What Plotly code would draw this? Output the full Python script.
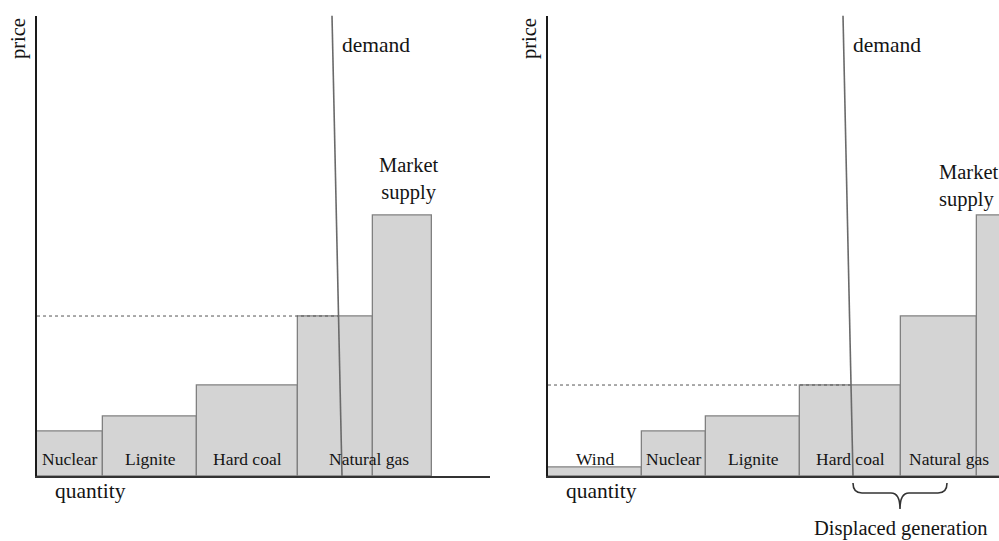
import plotly.graph_objects as go

# ---- data (arbitrary quantity / price units) ----
techs_before = ["Nuclear", "Lignite", "Hard coal", "Natural gas", "Peak"]
widths_before = [66, 94, 101, 75, 59]
prices_before = [45, 59.5, 91, 160, 260.5]

techs_after = ["Wind", "Nuclear", "Lignite", "Hard coal", "Natural gas", "Peak"]
widths_after = [94, 64, 94, 101, 76, 59]
prices_after = [9, 45, 59.5, 91, 160, 260.5]

labelled = ["Wind", "Nuclear", "Lignite", "Hard coal", "Natural gas"]

demand_q = [305, 295]      # quantity at bottom / top of chart
demand_p = [0, 460.5]
price_max = 460.5

FONT = "Liberation Serif"
TXT = "#141414"

fig = go.Figure()

yd = [0.1201, 0.9713]
panels = [
    dict(x="x", y="y", xa="xaxis", ya="yaxis", dom=[37/999, 490/999], xr=[0, 453],
         techs=techs_before, w=widths_before, p=prices_before, clear="Natural gas",
         gas_shift=33, ms_x=372, ms_y=297, ms_anchor="center"),
    dict(x="x2", y="y2", xa="xaxis2", ya="yaxis2", dom=[548/999, 1.0], xr=[0, 451],
         techs=techs_after, w=widths_after, p=prices_after, clear="Hard coal",
         gas_shift=10, ms_x=389, ms_y=290, ms_anchor="left"),
]


def demand_q_at(p):
    return demand_q[0] + (demand_q[1] - demand_q[0]) * (p - demand_p[0]) / (demand_p[1] - demand_p[0])


def to_paper(pn, q, p):
    d0, d1 = pn["dom"]
    r0, r1 = pn["xr"]
    px = d0 + (q - r0) / (r1 - r0) * (d1 - d0)
    py = yd[0] + p / price_max * (yd[1] - yd[0])
    return px, py


annotations = []
shapes = []
for i, pn in enumerate(panels):
    lefts = []
    acc = 0
    for w in pn["w"]:
        lefts.append(acc)
        acc += w
    centers = [l + w / 2 for l, w in zip(lefts, pn["w"])]
    fig.add_trace(go.Bar(x=centers, y=pn["p"], width=pn["w"], base=0,
                         marker=dict(color="#d4d4d4", line=dict(color="#808080", width=1.3)),
                         xaxis=pn["x"], yaxis=pn["y"], hoverinfo="skip"))
    # clearing price dotted line
    cp = pn["p"][pn["techs"].index(pn["clear"])]
    fig.add_trace(go.Scatter(x=[0, demand_q_at(cp)], y=[cp, cp], mode="lines",
                             line=dict(color="#555555", width=1, dash="dot"),
                             xaxis=pn["x"], yaxis=pn["y"], hoverinfo="skip"))
    # demand line
    fig.add_trace(go.Scatter(x=demand_q, y=demand_p, mode="lines",
                             line=dict(color="#6a6a6a", width=1.6),
                             xaxis=pn["x"], yaxis=pn["y"], hoverinfo="skip"))
    # bar labels
    for t, c in zip(pn["techs"], centers):
        if t in labelled:
            xx = c + (pn["gas_shift"] if t == "Natural gas" else 0)
            annotations.append(dict(x=xx, y=17.5, xref=pn["x"], yref=pn["y"], text=t,
                                    showarrow=False, font=dict(family=FONT, size=17.5, color=TXT)))
    annotations.append(dict(x=demand_q[1] + 8, y=431, xref=pn["x"], yref=pn["y"], text="demand",
                            xanchor="left", showarrow=False, font=dict(family=FONT, size=21.5, color=TXT)))
    annotations.append(dict(x=pn["ms_x"], y=pn["ms_y"], xref=pn["x"], yref=pn["y"],
                            text="Market<br>supply", showarrow=False, align=pn["ms_anchor"],
                            xanchor=pn["ms_anchor"],
                            font=dict(family=FONT, size=20.5, color=TXT)))
    qx, qy = to_paper(pn, 16, -15)
    annotations.append(dict(x=qx, y=qy, xref="paper", yref="paper", text="quantity",
                            xanchor="left", yanchor="middle", showarrow=False,
                            font=dict(family=FONT, size=21.5, color=TXT)))
    px_, py_ = to_paper(pn, -19, 437)
    annotations.append(dict(x=px_, y=py_, xref="paper", yref="paper", text="price", textangle=-90,
                            xanchor="center", yanchor="middle", showarrow=False,
                            font=dict(family=FONT, size=20.5, color=TXT)))
    fig.layout[pn["xa"]] = dict(domain=pn["dom"], range=pn["xr"], showgrid=False, zeroline=False,
                                showticklabels=False, ticks="", showline=True, linecolor="#333333",
                                linewidth=2, anchor=pn["y"], fixedrange=True)
    fig.layout[pn["ya"]] = dict(domain=yd, range=[0, price_max], showgrid=False, zeroline=False,
                                showticklabels=False, ticks="", showline=True, linecolor="#1a1a1a",
                                linewidth=2, anchor=pn["x"], fixedrange=True)

# displaced generation brace (spans the wind quantity, starting at the demand line)
pr = panels[1]
b0 = demand_q[0]
b1 = demand_q[0] + widths_after[0]
bm = (b0 + b1) / 2
yt, ym, yb, r = -7, -17, -33, 9


def P(q, p):
    a, b = to_paper(pr, q, p)
    return f"{a:.5f},{b:.5f}"


path = (f"M {P(b0, yt)} Q {P(b0, ym)} {P(b0 + r, ym)} L {P(bm - r, ym)} Q {P(bm, ym)} {P(bm, yb)} "
        f"Q {P(bm, ym)} {P(bm + r, ym)} L {P(b1 - r, ym)} Q {P(b1, ym)} {P(b1, yt)}")
shapes.append(dict(type="path", path=path, xref="paper", yref="paper",
                   line=dict(color="#333333", width=1.6)))
dx, dy = to_paper(pr, bm + 1, -52)
annotations.append(dict(x=dx, y=dy, xref="paper", yref="paper", text="Displaced generation",
                        xanchor="center", yanchor="middle", showarrow=False,
                        font=dict(family=FONT, size=20.5, color=TXT)))

fig.update_layout(width=999, height=541, margin=dict(l=0, r=0, t=0, b=0),
                  paper_bgcolor="white", plot_bgcolor="white", showlegend=False,
                  barmode="overlay", bargap=0, annotations=annotations, shapes=shapes)

fig.write_html("out.html", config={"displayModeBar": False},
               post_script="document.body.style.margin='0';")
